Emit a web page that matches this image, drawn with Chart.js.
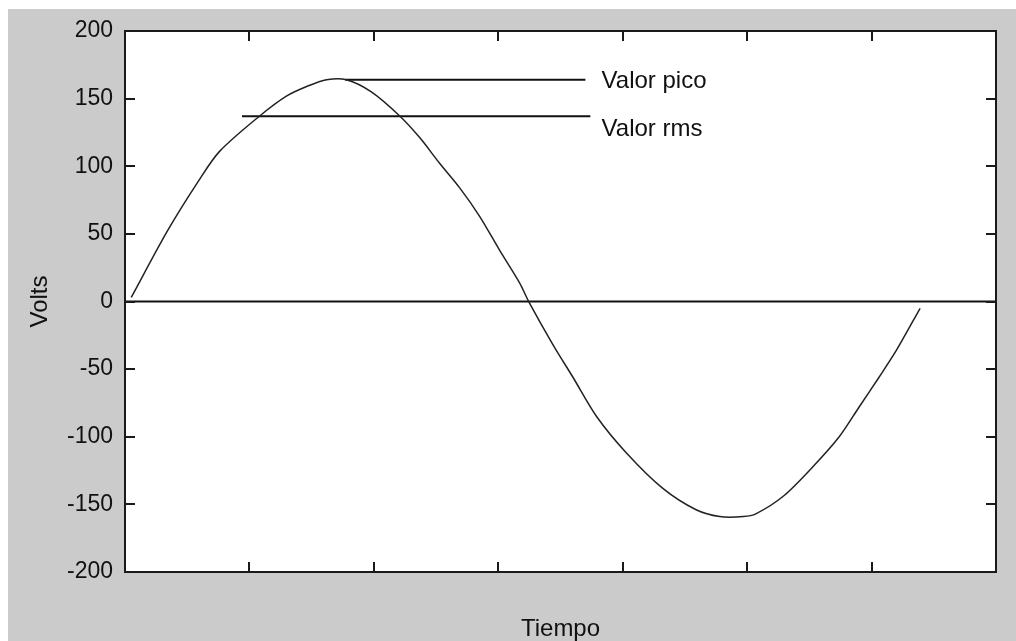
<!DOCTYPE html>
<html>
<head>
<meta charset="utf-8">
<title>Valor pico / Valor rms</title>
<script src="https://cdn.jsdelivr.net/npm/chart.js@4/dist/chart.umd.min.js"></script>
<style>
  html, body { margin: 0; padding: 0; background: #ffffff; }
  #wrap { width: 1016px; height: 641px; }
</style>
</head>
<body>
<div id="wrap"><canvas id="senoChart" width="1016" height="641"></canvas></div>
<script>
// Curve (x in tick units, y in volts)
const tiempo = [0.05, 0.34, 0.59, 0.76, 1.08, 1.30, 1.46, 1.62, 1.78, 1.98, 2.21, 2.37, 2.53, 2.69, 2.85, 3.01, 3.17, 3.25,
                3.44, 3.60, 3.79, 4.03, 4.32, 4.59, 4.78, 4.97, 5.07, 5.29, 5.53, 5.74, 5.90, 6.06, 6.20, 6.39];
const volts = [3, 52, 89, 111, 137, 152, 159, 164, 164, 155, 137, 121, 102, 84, 63, 38, 14, -1,
               -32, -56, -85, -112, -138, -154, -159, -159, -157, -144, -122, -100, -78, -56, -36, -5];

// Reference lines
const ceroX = [0, 7];
const picoX = [1.77, 3.70];
const picoY = 164;
const rmsX = [0.94, 3.74];
const rmsY = 137;

const yTicks = [-200, -150, -100, -50, 0, 50, 100, 150, 200];
const xTicks = [1, 2, 3, 4, 5, 6];

const etiquetas = [
    { text: 'Valor pico', x: 3.83, y: 163 },
    { text: 'Valor rms', x: 3.83, y: 127 }
];

const toPoints = (xs, ys) => xs.map((x, i) => ({ x, y: Array.isArray(ys) ? ys[i] : ys }));

// gray figure background, white axes box, frame with inward ticks, and text labels
const matlabStyle = {
    id: 'matlabStyle',
    beforeDraw(chart) {
        const { ctx, chartArea: a } = chart;
        ctx.save();
        ctx.fillStyle = '#cbcbcb';
        ctx.fillRect(8, 9, chart.width - 8, chart.height - 9);
        ctx.fillStyle = '#ffffff';
        ctx.fillRect(a.left, a.top, a.right - a.left, a.bottom - a.top);
        ctx.restore();
    },
    afterDraw(chart) {
        const { ctx, chartArea: a, scales } = chart;
        const tl = 10;
        ctx.save();
        ctx.strokeStyle = '#1a1a1a';
        ctx.lineWidth = 2;
        ctx.strokeRect(a.left, a.top, a.right - a.left, a.bottom - a.top);
        ctx.beginPath();
        xTicks.forEach(v => {
            const px = Math.round(scales.x.getPixelForValue(v));
            ctx.moveTo(px, a.bottom); ctx.lineTo(px, a.bottom - tl);
            ctx.moveTo(px, a.top); ctx.lineTo(px, a.top + tl);
        });
        yTicks.forEach(v => {
            const py = Math.round(scales.y.getPixelForValue(v));
            ctx.moveTo(a.left, py); ctx.lineTo(a.left + tl, py);
            ctx.moveTo(a.right, py); ctx.lineTo(a.right - tl, py);
        });
        ctx.stroke();

        ctx.fillStyle = '#111111';
        ctx.font = '24px "Liberation Sans", Arial, sans-serif';
        ctx.textAlign = 'left';
        ctx.textBaseline = 'middle';
        etiquetas.forEach(l => {
            ctx.fillText(l.text, scales.x.getPixelForValue(l.x), scales.y.getPixelForValue(l.y));
        });
        ctx.restore();
    }
};

const lineStyle = { borderColor: '#111111', borderWidth: 2, pointRadius: 0, fill: false, tension: 0 };

new Chart(document.getElementById('senoChart'), {
    type: 'line',
    data: {
        datasets: [
            { label: 'seno', data: toPoints(tiempo, volts), borderColor: '#222222', borderWidth: 1.5, pointRadius: 0, fill: false, tension: 0.3 },
            { label: 'cero', data: toPoints(ceroX, 0), ...lineStyle },
            { label: 'pico', data: toPoints(picoX, picoY), ...lineStyle },
            { label: 'rms', data: toPoints(rmsX, rmsY), ...lineStyle }
        ]
    },
    options: {
        responsive: false,
        animation: false,
        layout: { padding: { left: 25, top: 31, right: 20, bottom: 0 } },
        plugins: { legend: { display: false }, tooltip: { enabled: false } },
        scales: {
            x: {
                type: 'linear',
                min: 0,
                max: 7,
                grid: { display: false },
                border: { display: false },
                ticks: { display: false },
                title: {
                    display: true,
                    text: 'Tiempo',
                    color: '#111111',
                    padding: 0,
                    font: { family: '"Liberation Sans", Arial, sans-serif', size: 24, lineHeight: 1 }
                },
                afterFit: (scale) => { scale.height = 69; }
            },
            y: {
                min: -200,
                max: 200,
                grid: { display: false },
                border: { display: false },
                afterBuildTicks: (scale) => { scale.ticks = yTicks.map(v => ({ value: v })); },
                ticks: {
                    color: '#111111',
                    padding: 4,
                    font: { family: '"Liberation Sans", Arial, sans-serif', size: 23 }
                },
                title: {
                    display: true,
                    text: 'Volts',
                    color: '#111111',
                    padding: 0,
                    font: { family: '"Liberation Sans", Arial, sans-serif', size: 24, lineHeight: 1.25 }
                },
                afterFit: (scale) => { scale.width = 100; }
            }
        }
    },
    plugins: [matlabStyle]
});
</script>
</body>
</html>
